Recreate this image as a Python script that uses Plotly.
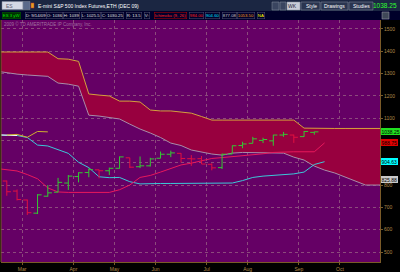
import plotly.graph_objects as go

# ---------------- data (weekly bars, index 0 = first week of March) ----------------
bar_idx = list(range(-2, 29))
opens  = [818, 773, 733, 674, 750, 768, 809, 838, 856, 868, 864, 875, 922, 882, 886, 920,
          938, 942, 918, 918, 893, 878, 939, 977, 987, 1000, 998, 1024, 1024, 1017, 1036]
highs  = [820, 780, 735, 759, 800, 832, 845, 857, 875, 869, 878, 928, 922, 928, 922, 950,
          954, 943, 934, 930, 897, 941, 977, 994, 1016, 1012, 1025, 1038, 1026, 1042, 1039]
lows   = [752, 731, 666, 670, 748, 768, 778, 812, 835, 830, 845, 874, 876, 876, 883, 920,
          925, 901, 886, 894, 866, 872, 939, 965, 987, 988, 976, 1016, 989, 1016, 1025.5]
closes = [770, 735, 676, 756, 765, 812, 840, 855, 869, 864, 875, 926, 880, 886, 917, 938,
          944, 919, 917, 894, 877, 938, 976, 984, 1007, 1004, 1024, 1027, 1014, 1040, 1038.25]

cloud_idx = list(range(-3, 36))
span_b = [1396, 1396, 1396, 1396, 1396, 1396, 1366, 1364, 1354, 1208, 1203, 1199, 1176, 1176,
          1172, 1136, 1132, 1132, 1127, 1122, 1107, 1091, 1091, 1091, 1091, 1091, 1091, 1091,
          1091, 1091, 1055, 1053.5, 1053.5, 1053.5, 1053.5, 1053.5, 1053.5, 1053.5, 1053.5]
span_a = [1310, 1303, 1297, 1293, 1290, 1287, 1257, 1252, 1243, 1113, 1109, 1104, 1096, 1073,
          1051, 1033, 1013, 988, 977, 957, 948, 939, 934, 943, 946, 946, 946, 946, 943,
          925, 912, 885, 867, 854, 836, 818, 800, 800, 800]

line_idx = list(range(-3, 30))
cyan_vals = [1024, 1024, 1022, 1013, 979, 975, 957, 942, 902, 878, 837, 833, 834, 815, 805,
             807, 807, 807, 807, 807, 807, 807, 807, 809, 820, 834, 840, 844, 847, 850, 858,
             892, 904.63]
red_vals = [874, 869, 863, 847, 828, 787, 769, 767, 767, 767, 767, 767, 779, 800, 834, 843,
            858, 874, 890, 898, 909, 919, 923, 927, 930, 934, 940, 946, 949, 949, 949, 949,
            988.75]

white_idx = [-3, -2, -1]
white_vals = [1025, 1025, 1022]

lag = 26
chikou_idx = [k - lag for k in bar_idx[-5:]]
chikou_vals = closes[-5:]

month_first_bar = [0, 5, 9, 13, 18, 22, 27, 31]
month_names = ["Mar", "Apr", "May", "Jun", "Jul", "Aug", "Sep", "Oct"]
y_ticks = list(range(500, 1600, 100))

price_labels = [(1038.25, "1038.25", "#20e020"), (988.75, "988.75", "#e00000"),
                (904.63, "904.63", "#00ffff"), (825.88, "825.88", "#c8c8c8")]

# ---------------- layout geometry ----------------
W, H = 400, 272
ML, MR, MT, MB = 1, 20, 20, 10
PW, PH = W - ML - MR, H - MT - MB
def px(X): return (X - ML) / PW
def py(Y): return (H - MB - Y) / PH

FONT = "Liberation Sans"
PURPLE = "#650065"
CLOUD = "#98003f"
GRID = "#8c4a7c"
AXC = "#b08848"
BORDER = "#7a5a28"
TICK_HALF = 0.4  # half width of open/close ticks, in bar units

fig = go.Figure()
fig.add_trace(go.Scatter(x=cloud_idx, y=span_a, mode="lines",
                         line=dict(color="#a88ca8", width=1), hoverinfo="skip"))
fig.add_trace(go.Scatter(x=cloud_idx, y=span_b, mode="lines", fill="tonexty",
                         fillcolor=CLOUD, line=dict(color="#d4a03c", width=1), hoverinfo="skip"))
fig.add_trace(go.Scatter(x=line_idx, y=cyan_vals, mode="lines",
                         line=dict(color="#3cc8d8", width=1), hoverinfo="skip"))
fig.add_trace(go.Scatter(x=line_idx, y=red_vals, mode="lines",
                         line=dict(color="#e8185c", width=1), hoverinfo="skip"))
fig.add_trace(go.Scatter(x=white_idx, y=white_vals, mode="lines",
                         line=dict(color="#ffffff", width=1), hoverinfo="skip"))
fig.add_trace(go.Scatter(x=chikou_idx, y=chikou_vals, mode="lines",
                         line=dict(color="#d0b030", width=1), hoverinfo="skip"))


def ohlc_path(rising):
    xs, ys = [], []
    for k, o, h, l, c in zip(bar_idx, opens, highs, lows, closes):
        if (c >= o) != rising:
            continue
        xs += [k, k, None, k - TICK_HALF, k, None, k, k + TICK_HALF, None]
        ys += [l, h, None, o, o, None, c, c, None]
    return xs, ys


for rising, col in ((True, "#34c834"), (False, "#e01040")):
    xs, ys = ohlc_path(rising)
    fig.add_trace(go.Scatter(x=xs, y=ys, mode="lines", line=dict(color=col, width=1),
                             connectgaps=False, hoverinfo="skip"))

shapes = []
anns = []

# header rows
shapes.append(dict(type="rect", xref="paper", yref="paper", x0=px(0), x1=px(400), y0=py(0), y1=py(11),
                   fillcolor="#1b2642", line=dict(width=0), layer="above"))
shapes.append(dict(type="rect", xref="paper", yref="paper", x0=px(0), x1=px(400), y0=py(11), y1=py(20),
                   fillcolor="#00002a", line=dict(width=0), layer="above"))
# symbol box
shapes.append(dict(type="rect", xref="paper", yref="paper", x0=px(2), x1=px(23), y0=py(1.5), y1=py(9.5),
                   fillcolor="#d4d8e4", line=dict(color="#808898", width=0.5), layer="above"))
shapes.append(dict(type="rect", xref="paper", yref="paper", x0=px(23), x1=px(30), y0=py(1.5), y1=py(9.5),
                   fillcolor="#5a6a8a", line=dict(color="#808898", width=0.5), layer="above"))
shapes.append(dict(type="rect", xref="paper", yref="paper", x0=px(31), x1=px(34), y0=py(3), y1=py(8),
                   fillcolor="#e0a020", line=dict(color="#c03030", width=0.5), layer="above"))
anns.append(dict(text="ES", x=px(4), y=py(5.5), xanchor="left", yanchor="middle",
                 font=dict(size=5, color="#606070", family=FONT)))
anns.append(dict(text="E-mini S&P 500 Index Futures,ETH (DEC 09)", x=px(35.5), y=py(5.5),
                 xanchor="left", yanchor="middle", font=dict(size=5, color="#ffffff", family=FONT)))
# toolbar buttons
btns = [(272, 279, "", "#3a4560", "#ffffff"), (280, 286, "", "#3a4560", "#ffffff"),
        (287, 300, "WK", "#c8ccd8", "#202030"), (301, 320, "Style", "#2a3550", "#ffffff"),
        (321, 348, "Drawings", "#2a3550", "#ffffff"), (349, 373, "Studies", "#2a3550", "#ffffff")]
for x0, x1, t, bg, fc in btns:
    shapes.append(dict(type="rect", xref="paper", yref="paper", x0=px(x0), x1=px(x1), y0=py(2), y1=py(10),
                       fillcolor=bg, line=dict(color="#8890a0", width=0.5), layer="above"))
    if t:
        anns.append(dict(text=t, x=px(x1 - 1), y=py(6), xanchor="right", yanchor="middle",
                         font=dict(size=5, color=fc, family=FONT)))
anns.append(dict(text="1038.25", x=px(399), y=py(6), xanchor="right", yanchor="middle",
                 font=dict(size=6.5, color="#30ff30", family=FONT)))

# row 2 study / OHLC info
row2 = [("ES 3 yW", 2, "#00e000", "#006000", "#003000"),
        ("D: 9/14/09", 25, "#e0e0e0", "#505070", "#00002a"),
        ("O: 1036", 46, "#e0e0e0", "#505070", "#00002a"),
        ("H: 1039", 63, "#e0e0e0", "#505070", "#00002a"),
        ("L: 1025.5", 81, "#e0e0e0", "#505070", "#00002a"),
        ("C: 1030.25", 101, "#e0e0e0", "#505070", "#00002a"),
        ("R: 13.5", 126, "#e0e0e0", "#505070", "#00002a"),
        ("V:", 144, "#e0e0e0", "#505070", "#00002a"),
        ("Ichimoku (9, 26)", 154, "#ff2020", "#c00000", "#00002a"),
        ("984.00", 189, "#ff2020", "#505070", "#00002a"),
        ("904.60", 205, "#00e0ff", "#505070", "#00002a"),
        ("877.08", 222, "#c8c8c8", "#505070", "#00002a"),
        ("1053.50", 237, "#ffa020", "#505070", "#00002a"),
        ("NA", 257, "#ffff00", "#505070", "#00002a")]
for t, x0, fc, bc, bg in row2:
    anns.append(dict(text=t, x=px(x0), y=py(15.5), xanchor="left", yanchor="middle",
                     font=dict(size=4.3, color=fc, family=FONT), bgcolor=bg, bordercolor=bc,
                     borderwidth=0.5, borderpad=0.3))
shapes.append(dict(type="rect", xref="paper", yref="paper", x0=px(382), x1=px(389), y0=py(12), y1=py(19),
                   fillcolor="#404858", line=dict(color="#a0a0b0", width=0.5), layer="above"))

# watermark
anns.append(dict(text="2009 © TD AMERITRADE IP Company, Inc.", x=px(2), y=py(23.5), xanchor="left",
                 yanchor="middle", font=dict(size=4.5, color="#a070a0", family=FONT)))

# price labels on right axis
for val, txt, col in price_labels:
    anns.append(dict(text=txt, x=px(381), xref="paper", y=val, yref="y", xanchor="left",
                     yanchor="middle", font=dict(size=5, color="#000000", family=FONT),
                     bgcolor=col, borderpad=0.5, borderwidth=0))

for a in anns:
    a.setdefault("xref", "paper")
    a.setdefault("yref", "paper")
    a["showarrow"] = False

# y tick labels hidden behind the price labels (as in the reference)
y_ticktext = ["" if any(abs(v - p) < 20 for p, _, _ in price_labels) else str(v) for v in y_ticks]

# left border
shapes.append(dict(type="line", xref="paper", yref="paper", x0=0, x1=0, y0=0, y1=1,
                   line=dict(color=BORDER, width=1)))

x_lo = (ML - 27.3) / 10.25
x_hi = (W - MR - 27.3) / 10.25
y_lo = 500 - (H - MB - 252) / 0.2232
y_hi = 500 + (252 - MT) / 0.2232

fig.update_layout(
    width=W, height=H, margin=dict(l=ML, r=MR, t=MT, b=MB, pad=0),
    paper_bgcolor="#000000", plot_bgcolor=PURPLE, showlegend=False,
    shapes=shapes, annotations=anns, hovermode=False,
    xaxis=dict(range=[x_lo, x_hi], tickvals=[m - 0.5 for m in month_first_bar], ticktext=month_names,
               showgrid=True, gridcolor=GRID, griddash="dot", gridwidth=1, zeroline=False,
               ticks="outside", ticklen=2, tickcolor=BORDER, showline=True, linecolor=BORDER,
               linewidth=1, tickfont=dict(size=5, color=AXC, family=FONT), fixedrange=True),
    yaxis=dict(range=[y_lo, y_hi], side="right", tickvals=y_ticks, ticktext=y_ticktext,
               showgrid=True, gridcolor=GRID,
               griddash="dot", gridwidth=1, zeroline=False, ticks="outside", ticklen=2,
               tickcolor=BORDER, showline=True, linecolor=BORDER, linewidth=1,
               tickfont=dict(size=5, color=AXC, family=FONT), fixedrange=True),
)

fig.write_html("out.html", config={"displayModeBar": False})
